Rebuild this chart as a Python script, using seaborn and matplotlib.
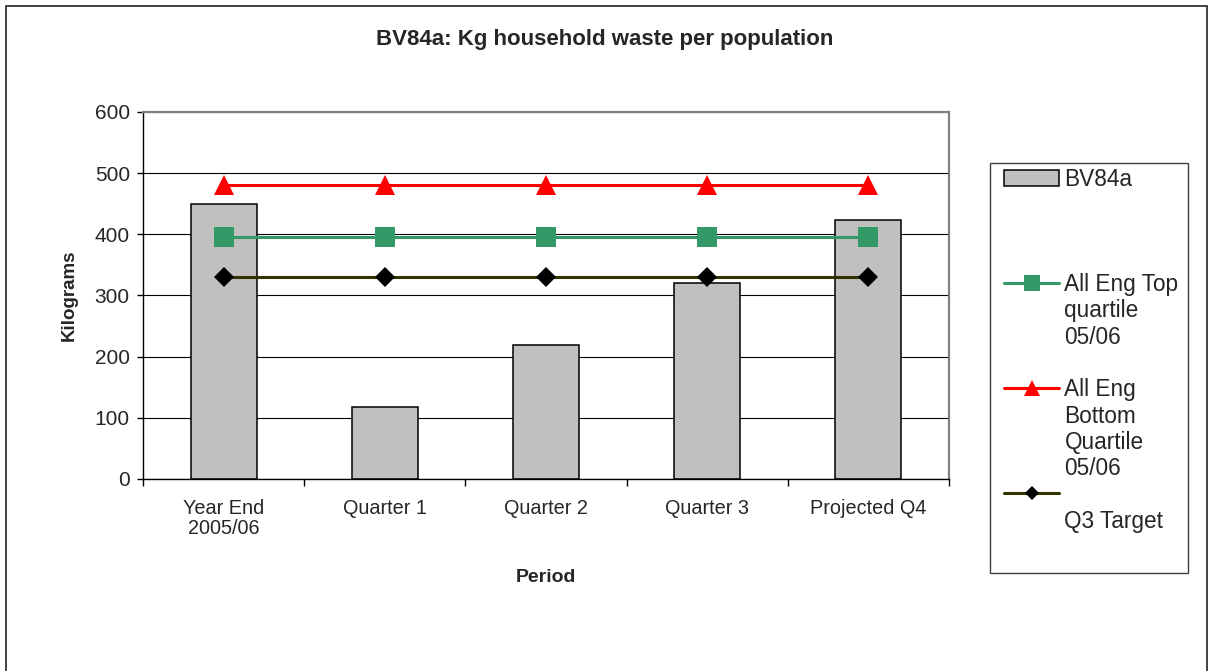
import numpy as np
import pandas as pd
import matplotlib
matplotlib.use("Agg")
import matplotlib.pyplot as plt
from matplotlib.patches import Rectangle, Patch
from matplotlib.lines import Line2D
import seaborn as sns

# ---- data -------------------------------------------------------------
categories = ["Year End\n2005/06", "Quarter 1", "Quarter 2", "Quarter 3", "Projected Q4"]
bv84a = [449, 117, 219, 320, 424]
top_quartile = [395, 395, 395, 395, 395]
bottom_quartile = [480, 480, 480, 480, 480]
q3_target = [330, 330, 330, 330, 330]

y_ticks = [0, 100, 200, 300, 400, 500, 600]

# ---- style ------------------------------------------------------------
sns.set_theme(style="white")
plt.rcParams["font.family"] = ["Liberation Sans", "DejaVu Sans"]

BAR_COLOR = "#C0C0C0"
GREEN = "#339966"
RED = "#FF0000"
OLIVE = "#333300"

W, H = 1210, 671
fig = plt.figure(figsize=(W / 100, H / 100), dpi=100)
fig.patch.set_facecolor("white")

ax = fig.add_axes([143 / W, 1 - 479 / H, 806 / W, 367 / H])

df = pd.DataFrame({
    "Period": categories,
    "BV84a": bv84a,
    "Top": top_quartile,
    "Bottom": bottom_quartile,
    "Target": q3_target,
})

sns.barplot(data=df, x="Period", y="BV84a", order=categories, color=BAR_COLOR,
            saturation=1, width=0.41, edgecolor="black", linewidth=1.1, ax=ax)

line_kw = dict(errorbar=None, order=categories, ax=ax, linewidth=2.2, markeredgewidth=0)
sns.pointplot(data=df, x="Period", y="Bottom", color=RED, marker="^", markersize=15, **line_kw)
sns.pointplot(data=df, x="Period", y="Top", color=GREEN, marker="s", markersize=14.5, **line_kw)
sns.pointplot(data=df, x="Period", y="Target", color=OLIVE, marker="D", markersize=10.5,
              markerfacecolor="black", **line_kw)

# ---- axes -------------------------------------------------------------
n = len(categories)
ax.set_xlim(-0.5, n - 0.5)
ax.set_ylim(0, 600)
ax.set_yticks(y_ticks)
ax.set_yticklabels([str(v) for v in y_ticks], fontsize=15)
ax.yaxis.grid(True, color="black", linewidth=0.8)
ax.xaxis.grid(False)
ax.set_axisbelow(True)

ax.set_xticks(np.arange(n))
ax.set_xticklabels(categories, fontsize=14.3, linespacing=1.05)
ax.set_xticks(np.arange(n + 1) - 0.5, minor=True)
ax.tick_params(axis="x", which="major", length=0, pad=14.5)
ax.tick_params(axis="x", which="minor", length=5, width=1, color="black", direction="out", bottom=True)
ax.tick_params(axis="y", length=4.5, width=1, color="black", direction="out", left=True, pad=5)

for side in ("left", "bottom"):
    ax.spines[side].set_color("black")
    ax.spines[side].set_linewidth(1.0)
for side in ("top", "right"):
    ax.spines[side].set_color("#808080")
    ax.spines[side].set_linewidth(1.6)

ax.set_xlabel("Period", fontsize=14, fontweight="bold")
ax.set_ylabel("Kilograms", fontsize=13.5, fontweight="bold")
ax.xaxis.set_label_coords(0.5, -0.246)
ax.yaxis.set_label_coords(-0.081, 0.5)

fig.text(0.5, 1 - 40 / H, "BV84a: Kg household waste per population",
         ha="center", va="center", fontsize=16, fontweight="bold")

# ---- legend -----------------------------------------------------------
blank = Patch(facecolor="none", edgecolor="none")
bar_h = Patch(facecolor=BAR_COLOR, edgecolor="black", linewidth=1.1)
green_h = Line2D([], [], color=GREEN, linewidth=2.2, marker="s", markersize=12, markeredgewidth=0)
red_h = Line2D([], [], color=RED, linewidth=2.2, marker="^", markersize=12, markeredgewidth=0)
olive_h = Line2D([], [], color=OLIVE, linewidth=2.2, marker="D", markersize=7.5,
                 markerfacecolor="black", markeredgewidth=0)

rows = [
    (bar_h, "BV84a"), (blank, " "), (blank, " "), (blank, " "),
    (green_h, "All Eng Top"), (blank, "quartile"), (blank, "05/06"), (blank, " "),
    (red_h, "All Eng"), (blank, "Bottom"), (blank, "Quartile"), (blank, "05/06"),
    (olive_h, " "), (blank, "Q3 Target"),
]
ax.legend([h for h, _ in rows], [t for _, t in rows], loc="upper left",
          bbox_to_anchor=(1004 / W, 1 - 168 / H), bbox_transform=fig.transFigure,
          frameon=False, fontsize=16.3, borderpad=0, borderaxespad=0,
          handlelength=2.45, handleheight=0.7, handletextpad=0.22, labelspacing=0.145)

fig.patches.append(Rectangle((990 / W, 1 - 573 / H), 198 / W, 410 / H,
                             transform=fig.transFigure, fill=False,
                             edgecolor="#404040", linewidth=1.0))
fig.patches.append(Rectangle((6 / W, -0.05), 1201 / W, 1.05 - 6 / H,
                             transform=fig.transFigure, fill=False,
                             edgecolor="#333333", linewidth=1.3))

fig.savefig("out.png", dpi=100)
